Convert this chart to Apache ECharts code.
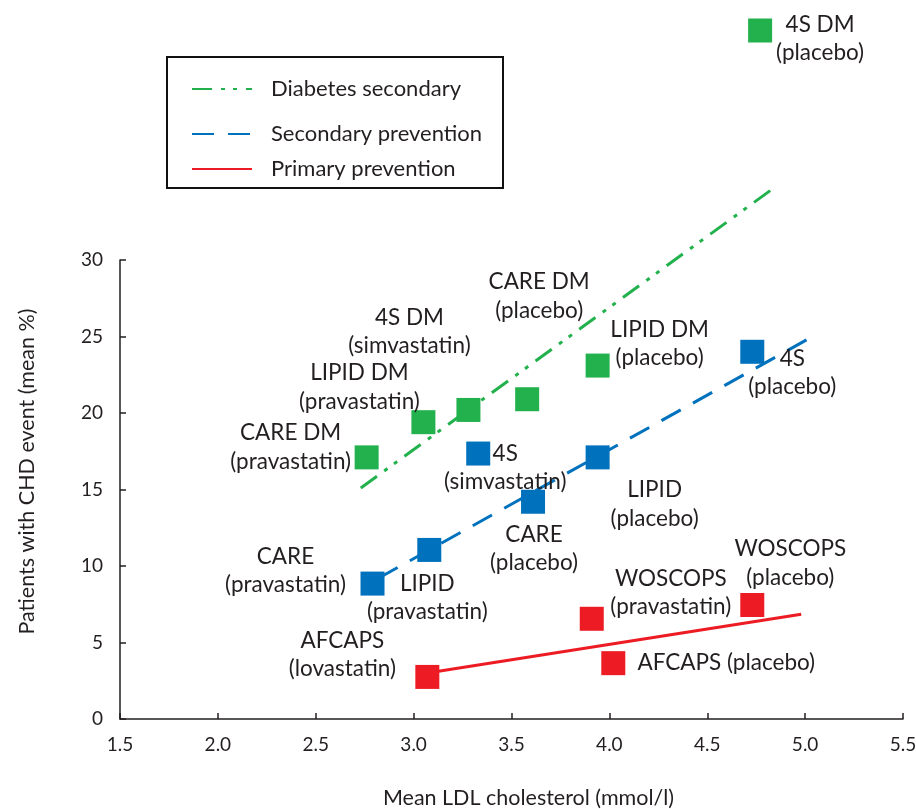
<!DOCTYPE html>
<html>
<head>
<meta charset="utf-8">
<script src="https://cdn.jsdelivr.net/npm/echarts@6/dist/echarts.min.js"></script>
<style>html,body{margin:0;padding:0;background:#fff}#chart{width:916px;height:809px}</style>
</head>
<body>
<div id="chart"></div>
<script>
// ---- data ----
const xTicks = [1.5, 2.0, 2.5, 3.0, 3.5, 4.0, 4.5, 5.0, 5.5];
const yTicks = [0, 5, 10, 15, 20, 25, 30];

const diabetesPoints = [[2.76, 17.1], [3.05, 19.4], [3.28, 20.2], [3.58, 20.9], [3.94, 23.1], [4.77, 45.0]];
const diabetesLabels = ['CARE DM\n(pravastatin)', 'LIPID DM\n(pravastatin)', '4S DM\n(simvastatin)', 'CARE DM\n(placebo)', 'LIPID DM\n(placebo)', '4S DM\n(placebo)'];

const secondaryPoints = [[2.79, 8.85], [3.08, 11.05], [3.33, 17.35], [3.61, 14.2], [3.94, 17.1], [4.73, 24.0]];
const secondaryLabels = ['CARE\n(pravastatin)', 'LIPID\n(pravastatin)', '4S\n(simvastatin)', 'CARE\n(placebo)', 'LIPID\n(placebo)', '4S\n(placebo)'];

const primaryPoints = [[3.07, 2.75], [3.91, 6.55], [4.02, 3.65], [4.73, 7.45]];
const primaryLabels = ['AFCAPS\n(lovastatin)', 'WOSCOPS\n(pravastatin)', 'AFCAPS (placebo)', 'WOSCOPS\n(placebo)'];

const diabetesTrend = [[2.73, 15.1], [4.85, 34.8]];
const secondaryTrend = [[2.82, 9.2], [5.01, 24.8]];
const primaryTrend = [[3.07, 3.0], [4.98, 6.85]];

const seriesNames = ['Diabetes secondary', 'Secondary prevention', 'Primary prevention'];

// ---- layout / style (kept separate from the data) ----
const FONT = 'Lato';
const TXT = '#231f20';
const GREEN = '#22b14c';
const BLUE = '#0071bc';
const RED = '#ed1c24';
const diabetesOffsets = [[-76, -10], [-64, -35], [-59, -78], [12, -103], [62, -22], [60, 8]];
const secondaryOffsets = [[-87, -13], [-2, 48], [27, 14], [1, 47], [57, 47], [40, 21]];
const primaryOffsets = [[-85, -22], [79, -26], [113, 0], [38, -42]];

function pts(points, labels, offsets) {
  return points.map((p, i) => ({
    value: p,
    label: { offset: offsets[i], formatter: labels[i] }
  }));
}

const labelBase = {
  show: true, position: 'inside', align: 'center', verticalAlign: 'middle',
  color: TXT, fontFamily: FONT, fontSize: 22.5, lineHeight: 28.5
};

function scatter(name, color, points, labels, offsets) {
  return {
    type: 'scatter', name: name + ' pts', symbol: 'rect', symbolSize: 24, clip: false,
    itemStyle: { color: color, opacity: 1 },
    label: labelBase,
    emphasis: { disabled: true },
    data: pts(points, labels, offsets),
    z: 3
  };
}

function trend(name, color, data, type) {
  return {
    type: 'line', name: name, data: data, symbol: 'none', clip: false,
    lineStyle: { color: color, width: 3, type: type, cap: 'butt' },
    itemStyle: { color: color },
    z: 2
  };
}

function legendItem(name, top) {
  return {
    data: [name], left: 186, top: top, itemWidth: 60, itemHeight: 14,
    selectedMode: false,
    itemStyle: { opacity: 0, borderWidth: 0 },
    textStyle: { color: TXT, fontFamily: FONT, fontSize: 22, padding: [0, 0, 0, 14] }
  };
}

const chart = echarts.init(document.getElementById('chart'), null, { renderer: 'canvas' });
chart.setOption({
  animation: false,
  backgroundColor: '#fff',
  grid: { left: 120, right: 13, top: 260, bottom: 90, containLabel: false, outerBoundsMode: 'none' },
  xAxis: {
    type: 'value', min: xTicks[0], max: xTicks[xTicks.length - 1], interval: xTicks[1] - xTicks[0],
    name: 'Mean LDL cholesterol (mmol/l)', nameLocation: 'middle', nameGap: 68,
    nameTextStyle: { color: TXT, fontFamily: FONT, fontSize: 21.5, padding: [0, 0, 0, 34] },
    axisLine: { show: true, lineStyle: { color: TXT, width: 1.5 } },
    axisTick: { show: true, inside: true, length: 6, lineStyle: { color: TXT, width: 1.5 } },
    axisLabel: { color: TXT, fontFamily: FONT, fontSize: 19, margin: 16, formatter: v => v.toFixed(1), showMinLabel: true, showMaxLabel: true },
    splitLine: { show: false }
  },
  yAxis: {
    type: 'value', min: yTicks[0], max: yTicks[yTicks.length - 1], interval: yTicks[1] - yTicks[0],
    name: 'Patients with CHD event (mean %)', nameLocation: 'middle', nameGap: 82,
    nameTextStyle: { color: TXT, fontFamily: FONT, fontSize: 21.5, padding: [0, 0, 0, 36] },
    axisLine: { show: true, lineStyle: { color: TXT, width: 1.5 } },
    axisTick: { show: true, inside: true, length: 6, lineStyle: { color: TXT, width: 1.5 } },
    axisLabel: { color: TXT, fontFamily: FONT, fontSize: 19, margin: 17 },
    splitLine: { show: false }
  },
  legend: [
    legendItem(seriesNames[0], 73),
    legendItem(seriesNames[1], 118),
    legendItem(seriesNames[2], 153)
  ],
  graphic: [{
    type: 'rect', shape: { x: 167, y: 57, width: 336, height: 131 },
    style: { fill: 'none', stroke: '#111', lineWidth: 2 }, z: 10
  }],
  series: [
    trend(seriesNames[0], GREEN, diabetesTrend, [20, 9, 4, 8, 4, 9]),
    trend(seriesNames[1], BLUE, secondaryTrend, [22, 14]),
    trend(seriesNames[2], RED, primaryTrend, 'solid'),
    scatter(seriesNames[0], GREEN, diabetesPoints, diabetesLabels, diabetesOffsets),
    scatter(seriesNames[1], BLUE, secondaryPoints, secondaryLabels, secondaryOffsets),
    scatter(seriesNames[2], RED, primaryPoints, primaryLabels, primaryOffsets)
  ]
});
</script>
</body>
</html>
